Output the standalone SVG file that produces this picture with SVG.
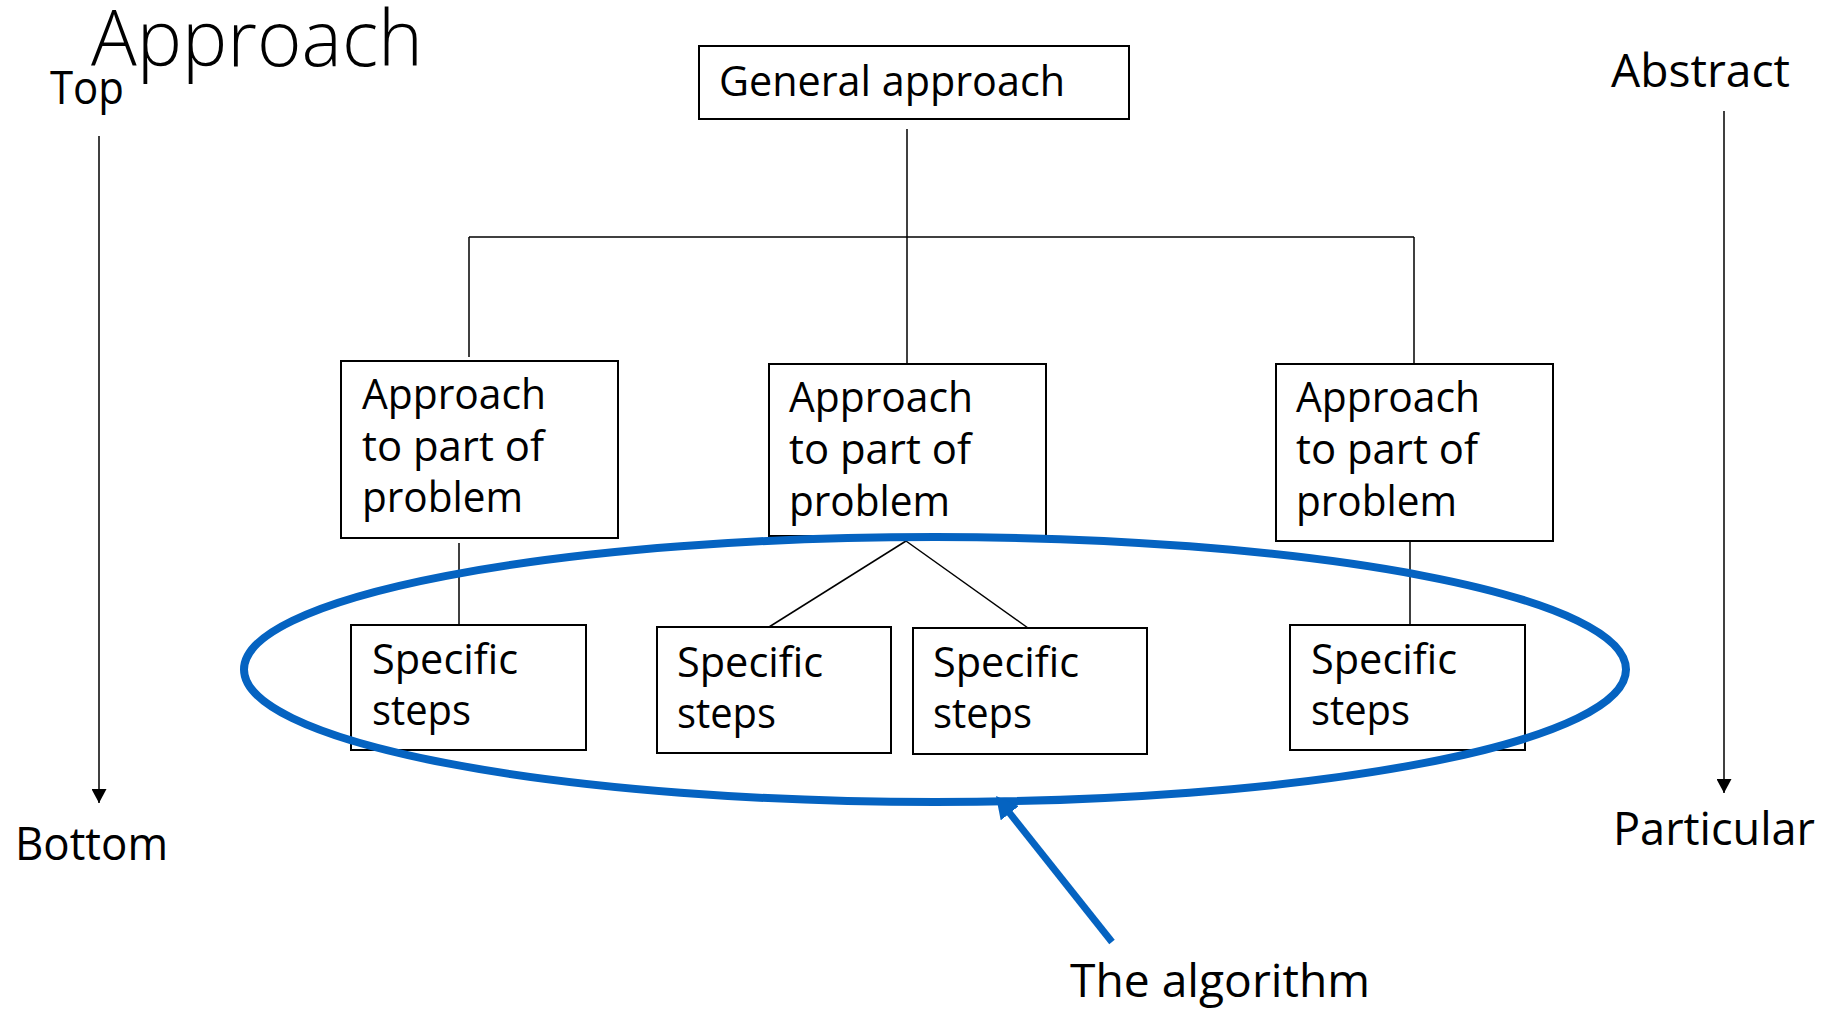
<svg xmlns="http://www.w3.org/2000/svg" width="1833" height="1009" viewBox="0 0 1833 1009">
<style>
text{font-family:"Open Sans","Noto Sans","Liberation Sans",sans-serif;fill:#000}
.box{fill:#fff;stroke:#000;stroke-width:2}
.bt{font-size:42px}
.lbl{font-size:46px}
.con{stroke:#000;stroke-width:1.5;fill:none}
.blue{stroke:#0563C1;fill:none}
</style>
<defs>
<marker id="ah" markerUnits="userSpaceOnUse" viewBox="0 0 14 15" markerWidth="14" markerHeight="15" refX="14" refY="7.5" orient="auto"><path d="M0,0 L14,7.5 L0,15 z" fill="#000"/></marker>
<marker id="bh" markerUnits="userSpaceOnUse" viewBox="0 0 22 23" markerWidth="22" markerHeight="23" refX="10" refY="11.5" orient="auto"><path d="M0,0 L22,11.5 L0,23 z" fill="#0563C1"/></marker>
</defs>
<rect width="1833" height="1009" fill="#fff"/>

<g id="labels">
<text x="91" y="66" font-size="78" font-weight="300" textLength="332" lengthAdjust="spacingAndGlyphs">Approach</text>
<text class="lbl" x="50" y="104" textLength="74" lengthAdjust="spacingAndGlyphs">Top</text>
<text class="lbl" x="15" y="860" textLength="153" lengthAdjust="spacingAndGlyphs">Bottom</text>
<text class="lbl" x="1611" y="87" textLength="179" lengthAdjust="spacingAndGlyphs">Abstract</text>
<text class="lbl" x="1613" y="845" textLength="202" lengthAdjust="spacingAndGlyphs">Particular</text>
<text class="lbl" x="1070" y="997" textLength="300" lengthAdjust="spacingAndGlyphs">The algorithm</text>
</g>

<g id="connectors">
<line class="con" x1="907" y1="129" x2="907" y2="364"/>
<line class="con" x1="469" y1="237" x2="1414" y2="237"/>
<line class="con" x1="469" y1="237" x2="469" y2="357"/>
<line class="con" x1="1414" y1="237" x2="1414" y2="364"/>
<line class="con" x1="459" y1="543" x2="459" y2="627"/>
<line class="con" x1="906" y1="541" x2="769" y2="627"/>
<line class="con" x1="906" y1="541" x2="1028" y2="628"/>
<line class="con" x1="1410" y1="541" x2="1410" y2="625"/>
<line class="con" x1="99" y1="136" x2="99" y2="803" marker-end="url(#ah)"/>
<line class="con" x1="1724" y1="111" x2="1724" y2="793" marker-end="url(#ah)"/>
</g>

<g id="general">
<rect class="box" x="699" y="46" width="430" height="73"/>
<text class="bt" x="719" y="96" textLength="346" lengthAdjust="spacingAndGlyphs">General approach</text>
</g>

<g id="part-left">
<rect class="box" x="341" y="361" width="277" height="177"/>
<text class="bt" x="362" y="409" textLength="184" lengthAdjust="spacingAndGlyphs">Approach</text>
<text class="bt" x="362" y="461" textLength="182" lengthAdjust="spacingAndGlyphs">to part of</text>
<text class="bt" x="362" y="512" textLength="161" lengthAdjust="spacingAndGlyphs">problem</text>
</g>
<g id="part-middle">
<rect class="box" x="769" y="364" width="277" height="172"/>
<text class="bt" x="789" y="412" textLength="184" lengthAdjust="spacingAndGlyphs">Approach</text>
<text class="bt" x="789" y="464" textLength="182" lengthAdjust="spacingAndGlyphs">to part of</text>
<text class="bt" x="789" y="516" textLength="161" lengthAdjust="spacingAndGlyphs">problem</text>
</g>
<g id="part-right">
<rect class="box" x="1276" y="364" width="277" height="177"/>
<text class="bt" x="1296" y="412" textLength="184" lengthAdjust="spacingAndGlyphs">Approach</text>
<text class="bt" x="1296" y="464" textLength="182" lengthAdjust="spacingAndGlyphs">to part of</text>
<text class="bt" x="1296" y="516" textLength="161" lengthAdjust="spacingAndGlyphs">problem</text>
</g>

<g id="steps-1">
<rect class="box" x="351" y="625" width="235" height="125"/>
<text class="bt" x="372" y="674" textLength="146" lengthAdjust="spacingAndGlyphs">Specific</text>
<text class="bt" x="372" y="725" textLength="99" lengthAdjust="spacingAndGlyphs">steps</text>
</g>
<g id="steps-2">
<rect class="box" x="657" y="627" width="234" height="126"/>
<text class="bt" x="677" y="677" textLength="146" lengthAdjust="spacingAndGlyphs">Specific</text>
<text class="bt" x="677" y="728" textLength="99" lengthAdjust="spacingAndGlyphs">steps</text>
</g>
<g id="steps-3">
<rect class="box" x="913" y="628" width="234" height="126"/>
<text class="bt" x="933" y="677" textLength="146" lengthAdjust="spacingAndGlyphs">Specific</text>
<text class="bt" x="933" y="728" textLength="99" lengthAdjust="spacingAndGlyphs">steps</text>
</g>
<g id="steps-4">
<rect class="box" x="1290" y="625" width="235" height="125"/>
<text class="bt" x="1311" y="674" textLength="146" lengthAdjust="spacingAndGlyphs">Specific</text>
<text class="bt" x="1311" y="725" textLength="99" lengthAdjust="spacingAndGlyphs">steps</text>
</g>

<g id="algorithm">
<ellipse class="blue" cx="935" cy="669.5" rx="691" ry="132.5" stroke-width="8"/>
<line class="blue" x1="1112" y1="942" x2="1003.5" y2="805.4" stroke-width="7" marker-end="url(#bh)"/>
</g>
</svg>
